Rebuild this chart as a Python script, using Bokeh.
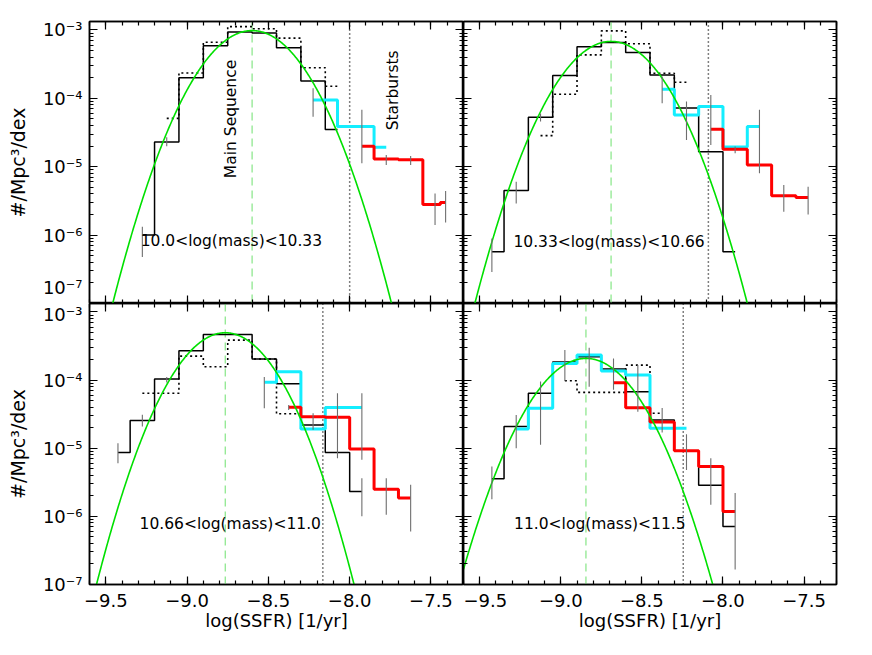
import numpy as np
from bokeh.plotting import figure
from bokeh.layouts import gridplot
from bokeh.models import (Range1d, LinearAxis, LogAxis, Span, Label,
                          CustomJSTickFormatter, SingleIntervalTicker, LogTicker)
from bokeh.embed import file_html
from bokeh.resources import INLINE

FONT = "DejaVu Sans"

# ---------------- axis texts ----------------
x_tick_values = [-9.5, -9.0, -8.5, -8.0, -7.5]
x_tick_labels = ["\u22129.5", "\u22129.0", "\u22128.5", "\u22128.0", "\u22127.5"]
y_tick_exponents = [-7, -6, -5, -4, -3]
y_tick_labels = ["10\u207b\u2077", "10\u207b\u2076", "10\u207b\u2075", "10\u207b\u2074", "10\u207b\u00b3"]
x_title = "log(SSFR) [1/yr]"
y_title = "#/Mpc\u00b3/dex"
mass_labels = ["10.0<log(mass)<10.33", "10.33<log(mass)<10.66",
               "10.66<log(mass)<11.0", "11.0<log(mass)<11.5"]
region_labels = ["Main Sequence", "Starbursts"]

X_RANGE = (-9.6, -7.3)
Y_RANGE = (1e-7, 1.33e-3)

# ---------------- panel 1: 10.0-10.33 ----------------
tl_black_x = [-9.275, -9.125, -8.975, -8.825, -8.675, -8.525, -8.375, -8.225, -8.075]
tl_black_y = [1.0e-6, 2.3e-5, 2.0e-4, 5.9e-4, 9.3e-4, 9.0e-4, 5.5e-4, 1.8e-4, 3.5e-5]
tl_dot_x = [-9.125, -8.975, -8.825, -8.675, -8.525, -8.375, -8.225, -8.075]
tl_dot_y = [5.1e-5, 2.35e-4, 6.6e-4, 1.12e-3, 1.04e-3, 7.6e-4, 2.8e-4, 1.5e-4]
tl_cyan_x = [-8.225, -7.925, -7.775]
tl_cyan_y = [9.5e-5, 3.86e-5, 1.92e-5]
tl_red_x = [-7.925, -7.775, -7.625, -7.475, -7.41]
tl_red_y = [2.0e-5, 1.3e-5, 1.27e-5, 2.8e-6, 3.0e-6]
tl_err_x = [-9.275, -9.125, -8.225, -7.925, -7.775, -7.625, -7.475, -7.41]
tl_err_lo = [4.8e-7, 2.0e-5, 5.4e-5, 1.12e-5, 1.06e-5, 1.06e-5, 1.41e-6, 1.53e-6]
tl_err_hi = [1.33e-6, 2.7e-5, 1.41e-4, 6.8e-5, 1.49e-5, 1.44e-5, 4.07e-6, 4.43e-6]
tl_fit = [-8.60, 0.20, 9.8e-4]   # centre, width, peak
tl_cut = -8.0

# ---------------- panel 2: 10.33-10.66 ----------------
tr_black_x = [-9.425, -9.275, -9.125, -8.975, -8.825, -8.675, -8.525, -8.375, -8.225, -8.075, -7.925]
tr_black_y = [5.7e-7, 4.5e-6, 5.3e-5, 2.16e-4, 5.7e-4, 6.55e-4, 4.68e-4, 2.2e-4, 7.2e-5, 1.66e-5, 5.7e-7]
tr_dot_x = [-9.125, -8.975, -8.825, -8.675, -8.525, -8.375, -8.225]
tr_dot_y = [2.85e-5, 1.15e-4, 4.33e-4, 9.7e-4, 6.3e-4, 2.33e-4, 1.72e-4]
tr_cyan_x = [-8.375, -8.225, -8.075, -7.925, -7.775]
tr_cyan_y = [1.36e-4, 5.7e-5, 7.6e-5, 1.95e-5, 3.86e-5]
tr_red_x = [-8.075, -7.925, -7.775, -7.625, -7.475]
tr_red_y = [3.53e-5, 1.8e-5, 1.06e-5, 3.78e-6, 3.56e-6]
tr_err_x = [-9.425, -9.275, -9.125, -8.375, -8.225, -8.075, -7.925, -7.775, -7.625, -7.475]
tr_err_lo = [2.9e-7, 2.9e-6, 4.6e-5, 8.5e-5, 2.47e-5, 2.08e-5, 1.57e-5, 8.0e-6, 2.2e-6, 2.0e-6]
tr_err_hi = [8.95e-7, 6.05e-6, 6.0e-5, 2.08e-4, 8.97e-5, 1.12e-4, 1.97e-5, 6.8e-5, 5.4e-6, 5.1e-6]
tr_fit = [-8.69, 0.20, 6.8e-4]
tr_cut = -8.09

# ---------------- panel 3: 10.66-11.0 ----------------
bl_black_x = [-9.425, -9.275, -9.125, -8.975, -8.825, -8.675, -8.525, -8.375, -8.225, -8.075, -7.925]
bl_black_y = [8.65e-6, 2.55e-5, 1.04e-4, 2.7e-4, 4.67e-4, 4.67e-4, 2.04e-4, 8.8e-5, 2.2e-5, 8.65e-6, 2.32e-6]
bl_dot_x = [-9.275, -9.125, -8.975, -8.825, -8.675, -8.525, -8.375, -8.225]
bl_dot_y = [6.4e-5, 6.4e-5, 2.25e-4, 1.57e-4, 3.86e-4, 2.04e-4, 3.2e-5, 2.9e-5]
bl_cyan_x = [-8.525, -8.375, -8.225, -8.075, -7.925]
bl_cyan_y = [9.3e-5, 1.32e-4, 1.92e-5, 3.95e-5, 3.95e-5]
bl_red_x = [-8.375, -8.225, -8.075, -7.925, -7.775, -7.625]
bl_red_y = [3.98e-5, 2.9e-5, 2.85e-5, 9.7e-6, 2.5e-6, 1.86e-6]
bl_err_x = [-9.425, -9.275, -9.125, -8.525, -8.375, -8.225, -8.075, -7.925, -7.925, -7.775, -7.625]
bl_err_lo = [6.0e-6, 2.08e-5, 9.2e-5, 3.85e-5, 3.65e-5, 1.86e-5, 7.1e-6, 6.76e-6, 1.0e-6, 1.06e-6, 6.0e-7]
bl_err_hi = [1.18e-5, 3.1e-5, 1.11e-4, 1.11e-4, 4.3e-5, 3.25e-5, 6.4e-5, 6.4e-5, 3.64e-6, 3.64e-6, 2.9e-6]
bl_fit = [-8.765, 0.192, 4.95e-4]
bl_cut = -8.165

# ---------------- panel 4: 11.0-11.5 ----------------
br_black_x = [-9.425, -9.275, -9.125, -8.975, -8.825, -8.675, -8.525, -8.375, -8.225, -8.075, -7.925]
br_black_y = [3.56e-6, 2.08e-5, 6.4e-5, 1.84e-4, 2.2e-4, 1.45e-4, 6.76e-5, 2.6e-5, 9.2e-6, 2.85e-6, 7.1e-7]
br_dot_x = [-8.975, -8.825, -8.675, -8.525, -8.375]
br_dot_y = [9.8e-5, 6.6e-5, 6.6e-5, 1.66e-4, 3.26e-5]
br_cyan_x = [-9.275, -9.125, -8.975, -8.825, -8.675, -8.525, -8.375, -8.225]
br_cyan_y = [1.92e-5, 3.86e-5, 1.75e-4, 2.33e-4, 1.36e-4, 1.19e-4, 1.96e-5, 1.96e-5]
br_red_x = [-8.675, -8.525, -8.375, -8.225, -8.075, -7.925]
br_red_y = [9.1e-5, 3.94e-5, 2.42e-5, 9.2e-6, 5.4e-6, 1.18e-6]
br_err_x = [-9.425, -9.275, -9.125, -8.975, -8.825, -8.675, -8.525, -8.375, -8.225, -8.075, -7.925]
br_err_lo = [1.79e-6, 1.0e-5, 1.12e-5, 9.7e-5, 8.0e-5, 7.2e-5, 3.44e-5, 1.7e-5, 4.8e-6, 1.48e-6, 1.66e-7]
br_err_hi = [5.4e-6, 3.08e-5, 9.5e-5, 2.76e-4, 2.98e-4, 2.08e-4, 1.66e-4, 3.9e-5, 1.6e-5, 7.1e-6, 2.2e-6]
br_fit = [-8.845, 0.20, 2.08e-4]
br_cut = -8.245

# positions of the in-panel texts (data coordinates)
mass_label_x = [-9.285, -9.292, -9.292, -9.288]
mass_label_y = [8.1e-7, 8.0e-7, 7.8e-7, 7.8e-7]
region_label_x = [-8.73, -7.735]
region_label_y = [5.0e-5, 1.31e-4]

BLACK = "#000000"
CYAN = "#14eeff"
RED = "#ff0000"
GREEN = "#00e000"
LIGHTGREEN = "#8fe88f"
GREY = "#6e6e6e"


def idl_steps(xc, yc):
    """Histogram path as IDL psym=10: steps at midpoints between the points."""
    xs, ys = [xc[0]], [yc[0]]
    for i in range(1, len(xc)):
        m = 0.5 * (xc[i - 1] + xc[i])
        xs += [m, m]
        ys += [yc[i - 1], yc[i]]
    xs.append(xc[-1])
    ys.append(yc[-1])
    return xs, ys


def x_formatter():
    return CustomJSTickFormatter(args=dict(vals=x_tick_values, labs=x_tick_labels), code="""
        for (let i = 0; i < vals.length; i++) {
            if (Math.abs(vals[i] - tick) < 1e-6) return labs[i];
        }
        return "";
    """)


def y_formatter(raise_lowest):
    # in the upper panels the lowest label is lifted above the shared border
    return CustomJSTickFormatter(args=dict(exps=y_tick_exponents, labs=y_tick_labels,
                                           lift=raise_lowest), code="""
        const e = Math.log10(tick);
        for (let i = 0; i < exps.length; i++) {
            if (Math.abs(exps[i] - e) < 1e-6) {
                if (lift && i == 0) return labs[i] + "\\n";
                return labs[i];
            }
        }
        return "";
    """)


def blank_formatter():
    return CustomJSTickFormatter(code="return '';")


def style_axis(ax, show_labels):
    ax.axis_line_color = "black"
    ax.axis_line_width = 1.5
    ax.major_tick_in = 8
    ax.major_tick_out = 0
    ax.minor_tick_in = 4
    ax.minor_tick_out = 0
    ax.major_tick_line_color = "black"
    ax.minor_tick_line_color = "black"
    ax.major_tick_line_width = 1.2
    ax.minor_tick_line_width = 1.2
    if show_labels:
        ax.major_label_text_font = FONT
        ax.major_label_text_font_size = "18px"
        ax.major_label_text_color = "black"
    else:
        ax.formatter = blank_formatter()
        ax.major_label_text_font_size = "1px"
        ax.major_label_standoff = 0


def make_panel(col, row, black, dot, cyan, red, err, fit, cut, idx):
    left = col == 0
    bottom = row == 1
    p = figure(frame_width=374 if left else 373, frame_height=282 if row == 0 else 281,
               x_range=Range1d(*X_RANGE), y_range=Range1d(*Y_RANGE), y_axis_type="log",
               toolbar_location=None, output_backend="svg",
               min_border=0,
               min_border_left=89 if left else 0, min_border_right=0 if left else 18,
               min_border_top=21 if row == 0 else 0, min_border_bottom=52 if bottom else 0,
               background_fill_color="white", border_fill_color="white",
               outline_line_color="black", outline_line_width=1.5)
    p.xgrid.visible = False
    p.ygrid.visible = False

    bax = p.below[0]
    lax = p.left[0]
    bax.ticker = SingleIntervalTicker(interval=0.5, num_minor_ticks=5)
    lax.ticker = LogTicker(num_minor_ticks=10)
    tax = LinearAxis(ticker=SingleIntervalTicker(interval=0.5, num_minor_ticks=5))
    rax = LogAxis(ticker=LogTicker(num_minor_ticks=10))
    p.add_layout(tax, "above")
    p.add_layout(rax, "right")

    style_axis(bax, bottom)
    style_axis(lax, left)
    style_axis(tax, False)
    style_axis(rax, False)

    if bottom:
        bax.formatter = x_formatter()
        bax.major_label_standoff = 9
        bax.axis_label = x_title
        bax.axis_label_text_font = FONT
        bax.axis_label_text_font_size = "18px"
        bax.axis_label_text_font_style = "normal"
        bax.axis_label_text_color = "black"
        bax.axis_label_standoff = 0
    if left:
        lax.formatter = y_formatter(row == 0)
        if row == 0:
            lax.major_label_text_line_height = 0.25
        lax.major_label_standoff = 7
        lax.axis_label = y_title
        lax.axis_label_text_font = FONT
        lax.axis_label_text_font_size = "19px"
        lax.axis_label_text_font_style = "normal"
        lax.axis_label_text_color = "black"
        lax.axis_label_standoff = 11

    # vertical reference lines
    p.add_layout(Span(location=fit[0], dimension="height", line_color=LIGHTGREEN,
                      line_width=1.3, line_dash="8 5", level="underlay"))
    p.add_layout(Span(location=cut, dimension="height", line_color="black",
                      line_width=1.5, line_dash="1 3", level="underlay"))

    # histograms
    xs, ys = idl_steps(*dot)
    p.line(xs, ys, line_color=BLACK, line_width=1.6, line_dash="2 3")
    xs, ys = idl_steps(*black)
    p.line(xs, ys, line_color=BLACK, line_width=1.5)
    xs, ys = idl_steps(*cyan)
    p.line(xs, ys, line_color=CYAN, line_width=3)
    xs, ys = idl_steps(*red)
    p.line(xs, ys, line_color=RED, line_width=3)

    # gaussian fit
    mu, sig, amp = fit
    gx = np.linspace(X_RANGE[0], X_RANGE[1], 500)
    gy = amp * np.exp(-0.5 * ((gx - mu) / sig) ** 2)
    keep = gy > 1e-9
    p.line(gx[keep], gy[keep], line_color=GREEN, line_width=1.6)

    # error bars
    ex, elo, ehi = err
    p.segment(x0=ex, y0=elo, x1=ex, y1=ehi, line_color=GREY, line_width=1.1)

    # texts
    p.add_layout(Label(x=mass_label_x[idx], y=mass_label_y[idx], text=mass_labels[idx],
                       text_align="left", text_baseline="middle",
                       text_font=FONT, text_font_size="15.5px", text_color="black"))
    if idx == 0:
        for t, lx, ly in zip(region_labels, region_label_x, region_label_y):
            p.add_layout(Label(x=lx, y=ly, text=t, angle=np.pi / 2,
                               text_align="center", text_baseline="middle",
                               text_font=FONT, text_font_size="15.5px", text_color="black"))
    return p


tl = make_panel(0, 0, (tl_black_x, tl_black_y), (tl_dot_x, tl_dot_y), (tl_cyan_x, tl_cyan_y),
                (tl_red_x, tl_red_y), (tl_err_x, tl_err_lo, tl_err_hi), tl_fit, tl_cut, 0)
tr = make_panel(1, 0, (tr_black_x, tr_black_y), (tr_dot_x, tr_dot_y), (tr_cyan_x, tr_cyan_y),
                (tr_red_x, tr_red_y), (tr_err_x, tr_err_lo, tr_err_hi), tr_fit, tr_cut, 1)
bl = make_panel(0, 1, (bl_black_x, bl_black_y), (bl_dot_x, bl_dot_y), (bl_cyan_x, bl_cyan_y),
                (bl_red_x, bl_red_y), (bl_err_x, bl_err_lo, bl_err_hi), bl_fit, bl_cut, 2)
br = make_panel(1, 1, (br_black_x, br_black_y), (br_dot_x, br_dot_y), (br_cyan_x, br_cyan_y),
                (br_red_x, br_red_y), (br_err_x, br_err_lo, br_err_hi), br_fit, br_cut, 3)

grid = gridplot([[tl, tr], [bl, br]], toolbar_location=None)

with open("out.html", "w") as f:
    f.write(file_html(grid, INLINE))
